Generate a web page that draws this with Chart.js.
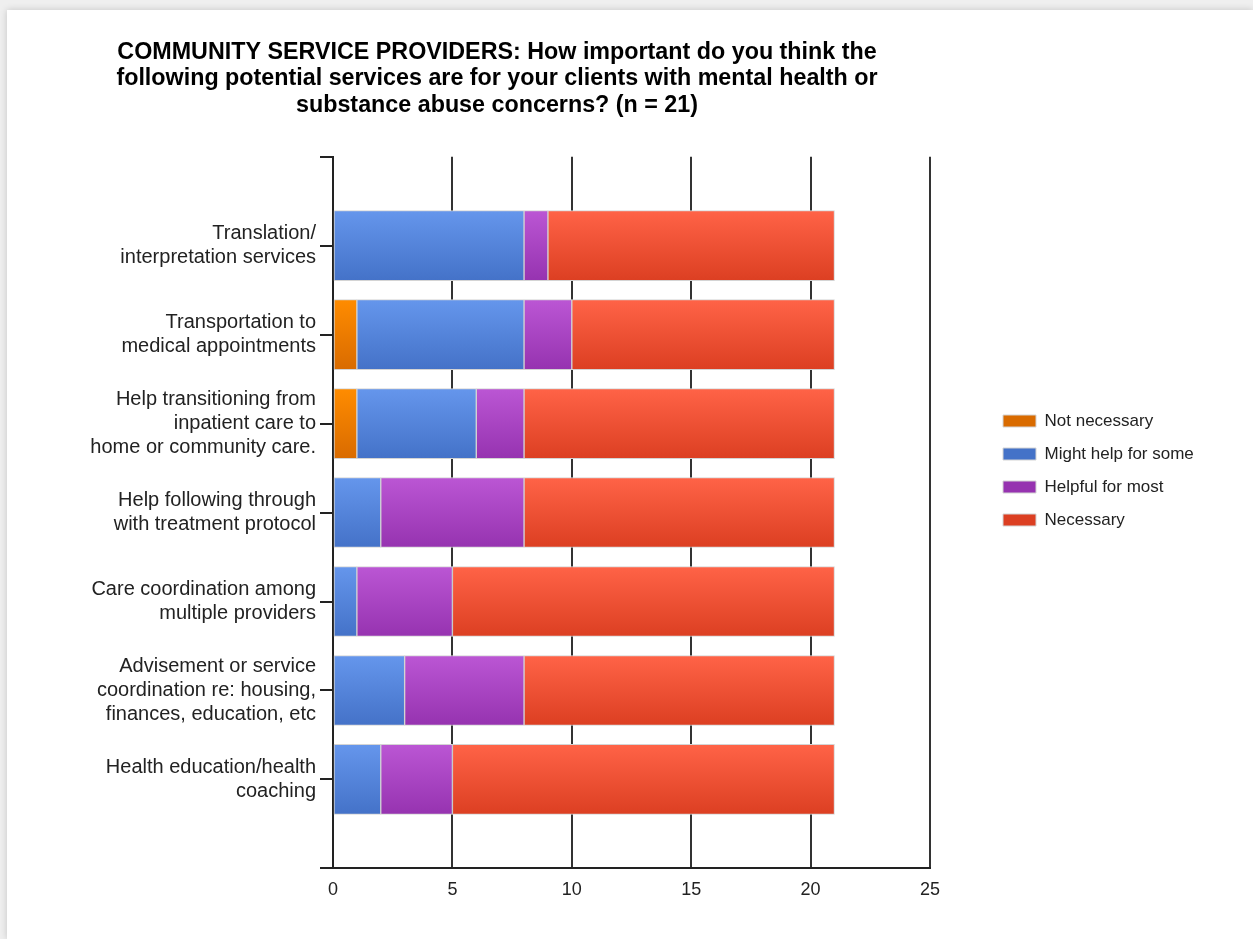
<!DOCTYPE html>
<html>
<head>
<meta charset="utf-8">
<script src="https://cdn.jsdelivr.net/npm/chart.js@4"></script>
<style>
    body { margin: 0; background: #efefef; }
    #card {
        position: absolute; left: 7px; top: 10px; right: 0; bottom: 0;
        background: #fff; box-shadow: 0 0 7px rgba(0,0,0,0.18);
    }
    #chart { position: absolute; left: 0; top: 0; }
</style>
</head>
<body>
<div id="card"></div>
<canvas id="chart" width="1253" height="939"></canvas>
<script>
Chart.defaults.font.family = '"Liberation Sans", Arial, sans-serif';
Chart.defaults.color = '#222';

// blank first/last slots leave a full band of space above and below the bars
var services = [
    '',
    ['Translation/', 'interpretation services'],
    ['Transportation to', 'medical appointments'],
    ['Help transitioning from', 'inpatient care to', 'home or community care.'],
    ['Help following through', 'with treatment protocol'],
    ['Care coordination among', 'multiple providers'],
    ['Advisement or service', 'coordination re: housing,', 'finances, education, etc'],
    ['Health education/health', 'coaching'],
    ''
];

var notNecessary = [null, 0, 1, 1, 0, 0, 0, 0, null];
var mightHelp    = [null, 8, 7, 5, 2, 1, 3, 2, null];
var helpfulMost  = [null, 1, 2, 2, 6, 4, 5, 3, null];
var necessary    = [null, 12, 11, 13, 13, 16, 13, 16, null];

var xTicks = [0, 5, 10, 15, 20, 25];

var BAR_H = 70;

var LEGEND_LEFT = 987;
var LEGEND_TOP = 396.5;
var LEGEND_PAD = 16;
var LEGEND_FONT = 17;
var LEGEND_BOX_H = 12;

function vGradient(chart, y0, y1, top, bottom) {
    var g = chart.ctx.createLinearGradient(0, y0, 0, y1);
    g.addColorStop(0, top);
    g.addColorStop(1, bottom);
    return g;
}

// vertical gradient per bar; the legend swatch gets one over its own box
function barFill(top, mid, bottom) {
    return function (ctx) {
        var chart = ctx.chart;
        if (ctx.type === 'dataset') {
            var by = LEGEND_TOP + LEGEND_PAD + ctx.datasetIndex * (LEGEND_FONT + LEGEND_PAD)
                + (LEGEND_FONT - LEGEND_BOX_H) / 2;
            return vGradient(chart, by, by + LEGEND_BOX_H, top, bottom);
        }
        if (ctx.type !== 'data' || !chart.scales.y) return mid;
        var yc = chart.scales.y.getPixelForValue(ctx.dataIndex);
        if (!isFinite(yc)) return mid;
        return vGradient(chart, yc - BAR_H / 2, yc + BAR_H / 2, top, bottom);
    };
}

function series(label, data, top, mid, bottom) {
    return {
        label:           label,
        data:            data,
        backgroundColor: barFill(top, mid, bottom),
        borderColor:     '#d4d4d4',
        borderWidth:     1,
        borderSkipped:   false,
        barThickness:    BAR_H
    };
}

// park the legend to the right of the plot, level with the middle bars
var legendPlacer = {
    id: 'legendPlacer',
    afterLayout: function (chart) {
        var lg = chart.legend;
        lg.left = LEGEND_LEFT; lg.right = lg.left + 230;
        lg.top = LEGEND_TOP; lg.bottom = lg.top + 160;
    }
};

new Chart(document.getElementById('chart'), {
    type: 'bar',
    data: {
        labels: services,
        datasets: [
            series('Not necessary',       notNecessary, '#ff8c00', '#f07f00', '#d96b00'),
            series('Might help for some', mightHelp,    '#6596ec', '#5683dc', '#4472c8'),
            series('Helpful for most',    helpfulMost,  '#bb56d4', '#a944c3', '#9633b0'),
            series('Necessary',           necessary,    '#ff6347', '#ee5234', '#dc3f22')
        ]
    },
    options: {
        indexAxis: 'y',
        responsive: false,
        animation: false,
        layout: { padding: { left: 7, right: 266, top: 10, bottom: 27 } },
        plugins: {
            title: {
                display: true,
                text: [
                    'COMMUNITY SERVICE PROVIDERS: How important do you think the',
                    'following potential services are for your clients with mental health or',
                    'substance abuse concerns? (n = 21)'
                ],
                color: '#000',
                font: { size: 23.3, weight: 'bold', lineHeight: 1.14 },
                padding: { top: 29, bottom: 38 }
            },
            legend: {
                position: 'right',
                align: 'start',
                maxWidth: 57,
                labels: {
                    color: '#222',
                    font: { size: LEGEND_FONT },
                    boxWidth: 33,
                    boxHeight: LEGEND_BOX_H,
                    padding: LEGEND_PAD
                }
            },
            tooltip: { enabled: false }
        },
        scales: {
            x: {
                stacked: true,
                min: 0,
                max: 25,
                afterBuildTicks: function (s) {
                    s.ticks = xTicks.map(function (v) { return { value: v }; });
                },
                ticks: { font: { size: 18 }, padding: 11, color: '#222' },
                grid: { color: '#333', lineWidth: 2, drawTicks: false },
                border: { color: '#222', width: 2 }
            },
            y: {
                stacked: true,
                offset: false,
                afterFit: function (s) { s.width = 326; },
                ticks: {
                    autoSkip: false,
                    font: { size: 20, lineHeight: 1.18 },
                    padding: 4,
                    color: '#222'
                },
                grid: {
                    offset: false,
                    drawOnChartArea: false,
                    tickLength: 13,
                    color: '#222',
                    lineWidth: 2
                },
                border: { color: '#222', width: 2 }
            }
        }
    },
    plugins: [legendPlacer]
});
</script>
</body>
</html>
